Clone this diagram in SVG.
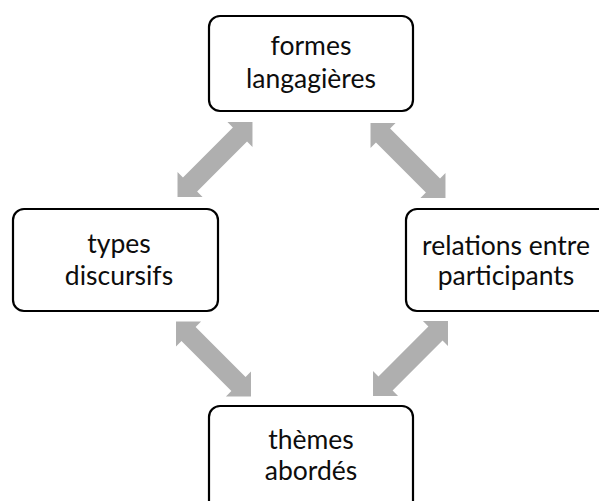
<svg xmlns="http://www.w3.org/2000/svg" width="599" height="501" viewBox="0 0 599 501">
<style>
.box{fill:#ffffff;stroke:#000000;stroke-width:2.2}
.lbl{font-family:Lato,"Liberation Sans",sans-serif;font-size:26.5px;fill:#0d0d0d;text-anchor:middle}
.arr{fill:#afafaf}
</style>
<defs>
<path id="dblarrow" class="arr" d="M53,0 L35.3,17.7 L35.3,10 L-35.3,10 L-35.3,17.7 L-53,0 L-35.3,-17.7 L-35.3,-10 L35.3,-10 L35.3,-17.7 Z"/>
</defs>
<rect width="599" height="501" fill="#ffffff"/>
<g id="connectors">
<use href="#dblarrow" transform="translate(215,159.5) rotate(-45)"/>
<use href="#dblarrow" transform="translate(408,160.5) rotate(45)"/>
<use href="#dblarrow" transform="translate(213.5,359) rotate(45)"/>
<use href="#dblarrow" transform="translate(410.5,358.5) rotate(-45)"/>
</g>
<g id="node-formes">
<rect class="box" x="209" y="16" width="204" height="95" rx="11"/>
<text class="lbl" x="311" y="55">formes</text>
<text class="lbl" x="311" y="88">langagières</text>
</g>
<g id="node-types">
<rect class="box" x="13" y="209" width="205" height="102" rx="11"/>
<text class="lbl" x="119" y="253">types</text>
<text class="lbl" x="119" y="285">discursifs</text>
</g>
<g id="node-relations">
<rect class="box" x="406" y="209" width="205" height="102" rx="11"/>
<text class="lbl" x="506" y="255">relations entre</text>
<text class="lbl" x="506" y="285">participants</text>
</g>
<g id="node-themes">
<rect class="box" x="209" y="406" width="204" height="110" rx="11"/>
<text class="lbl" x="311" y="449">thèmes</text>
<text class="lbl" x="311" y="480">abordés</text>
</g>
</svg>
